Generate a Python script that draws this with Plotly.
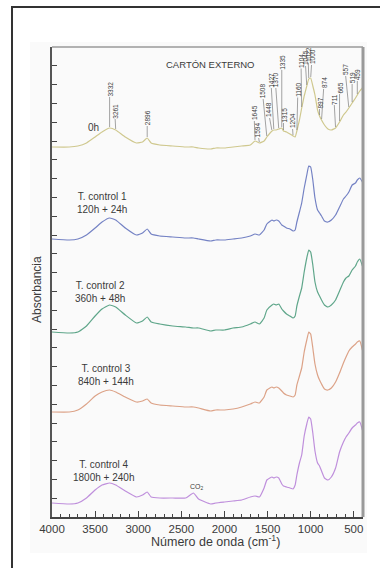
import numpy as np
import plotly.graph_objects as go

# Wavenumber grid (cm-1) shared by all spectra
wavenumber = [4000, 3800, 3700, 3600, 3500, 3420, 3332, 3261, 3150, 3020,
              2950, 2896, 2850, 2750, 2600, 2450, 2360, 2300, 2160, 2100,
              2000, 1900, 1800, 1700, 1645, 1594, 1540, 1508, 1448, 1427,
              1400, 1370, 1335, 1315, 1280, 1240, 1204, 1180, 1160, 1130,
              1104, 1075, 1045, 1022, 1000, 975, 950, 920, 897, 874,
              840, 800, 760, 711, 665, 620, 590, 557, 519, 480,
              459, 430, 400]

# Stacked absorbance spectra (arbitrary units, offset for clarity)
abs_0h = [3.70, 3.70, 3.71, 3.74, 3.80, 3.85, 3.89, 3.87, 3.80, 3.74,
          3.75, 3.79, 3.74, 3.72, 3.71, 3.70, 3.70, 3.69, 3.68, 3.69,
          3.69, 3.70, 3.71, 3.72, 3.76, 3.74, 3.76, 3.80, 3.86, 3.87,
          3.87, 3.88, 3.89, 3.86, 3.85, 3.83, 3.81, 3.80, 3.86, 3.97,
          4.09, 4.21, 4.31, 4.38, 4.39, 4.31, 4.22, 4.07, 4.01, 3.97,
          3.92, 3.88, 3.87, 3.89, 3.95, 4.02, 4.05, 4.09, 4.14, 4.19,
          4.22, 4.26, 4.29]
abs_ctrl1 = [2.78, 2.77, 2.78, 2.82, 2.89, 2.95, 2.99, 2.97, 2.89, 2.82,
             2.84, 2.88, 2.83, 2.81, 2.80, 2.79, 2.79, 2.78, 2.76, 2.77,
             2.77, 2.78, 2.79, 2.81, 2.83, 2.82, 2.87, 2.93, 2.97, 2.96,
             2.97, 2.96, 2.92, 2.91, 2.89, 2.88, 2.86, 2.87, 2.95, 3.05,
             3.14, 3.29, 3.42, 3.51, 3.50, 3.37, 3.19, 3.07, 3.04, 3.01,
             2.96, 2.95, 2.97, 3.02, 3.10, 3.18, 3.21, 3.25, 3.32, 3.34,
             3.37, 3.39, 3.35]
abs_ctrl2 = [1.85, 1.84, 1.85, 1.91, 2.01, 2.08, 2.12, 2.10, 2.02, 1.94,
             1.96, 2.00, 1.95, 1.93, 1.91, 1.90, 1.89, 1.89, 1.86, 1.87,
             1.87, 1.89, 1.90, 1.93, 1.95, 1.93, 1.99, 2.07, 2.12, 2.13,
             2.12, 2.13, 2.08, 2.06, 2.03, 2.01, 1.99, 2.01, 2.11, 2.21,
             2.29, 2.45, 2.59, 2.67, 2.65, 2.52, 2.35, 2.25, 2.21, 2.17,
             2.12, 2.10, 2.12, 2.17, 2.26, 2.35, 2.39, 2.41, 2.47, 2.51,
             2.55, 2.58, 2.51]
abs_ctrl3 = [1.05, 1.05, 1.07, 1.13, 1.21, 1.25, 1.27, 1.25, 1.20, 1.15,
             1.16, 1.18, 1.14, 1.12, 1.11, 1.10, 1.10, 1.09, 1.06, 1.07,
             1.07, 1.08, 1.10, 1.13, 1.15, 1.14, 1.20, 1.27, 1.30, 1.29,
             1.30, 1.29, 1.26, 1.24, 1.22, 1.21, 1.20, 1.22, 1.32, 1.41,
             1.49, 1.65, 1.77, 1.85, 1.83, 1.69, 1.53, 1.42, 1.37, 1.33,
             1.28, 1.27, 1.29, 1.35, 1.44, 1.54, 1.60, 1.66, 1.70, 1.73,
             1.75, 1.76, 1.67]
abs_ctrl4 = [0.14, 0.13, 0.14, 0.19, 0.27, 0.32, 0.34, 0.32, 0.26, 0.20,
             0.22, 0.25, 0.20, 0.19, 0.19, 0.19, 0.24, 0.18, 0.13, 0.14,
             0.15, 0.16, 0.17, 0.20, 0.21, 0.20, 0.29, 0.37, 0.40, 0.39,
             0.40, 0.39, 0.33, 0.31, 0.30, 0.29, 0.28, 0.32, 0.42, 0.54,
             0.62, 0.81, 0.93, 1.00, 0.98, 0.84, 0.66, 0.54, 0.51, 0.46,
             0.39, 0.37, 0.40, 0.49, 0.65, 0.75, 0.80, 0.84, 0.89, 0.92,
             0.94, 0.95, 0.87]

series_names = ["0h", "T. control 1<br>120h + 24h", "T. control 2<br>360h + 48h",
                "T. control 3<br>840h + 144h", "T. control 4<br>1800h + 240h"]
series_values = [abs_0h, abs_ctrl1, abs_ctrl2, abs_ctrl3, abs_ctrl4]
series_colors = ["#cfc88e", "#7482c4", "#5fa68a", "#dca287", "#bf8fdc"]
# label anchor (wavenumber, absorbance) for each spectrum name
label_wn = [3524, 3420, 3443, 3374, 3408]
label_y = [3.90, 3.14, 2.25, 1.42, 0.46]

# Band assignments marked on the 0h spectrum
peak_wn = [3332, 3261, 2896, 1645, 1594, 1508, 1448, 1427, 1370, 1335, 1315,
           1204, 1160, 1104, 1045, 1022, 1000, 897, 874, 711, 665, 557, 519, 459]
# label placement relative to the band (pixels)
peak_dx = [0, -1, 0, -1, -2, -4.5, -4, -3, -3.5, 0, 0,
           -1, 1, -0.7, -1.7, -0.7, 1.4, 0, 2.5, -1.6, 0, -3.8, 0, 0]
peak_dy = [-39, -19, -20, -28, -13, -46, -21, -50, -49, -66, -16,
           -15, -41, -47, -28, -24, -21, -13, -37, -29, -34, -38, -25, -20]

FONT = "Liberation Sans, Arial, sans-serif"
TXT = "#3a3a3a"

fig = go.Figure()
for vals, col in zip(series_values, series_colors):
    fig.add_trace(go.Scatter(x=wavenumber, y=vals, mode="lines",
                             line=dict(color=col, width=1.2, shape="spline", smoothing=0.4),
                             hoverinfo="skip", showlegend=False))

annotations = []
for name, wx, wy in zip(series_names, label_wn, label_y):
    annotations.append(dict(x=wx, y=wy, xref="x", yref="y", text=name, showarrow=False,
                            font=dict(family=FONT, size=10, color=TXT), align="center"))

wn_rev = np.array(wavenumber[::-1], dtype=float)
a0_rev = np.array(abs_0h[::-1], dtype=float)
for w, dx, dy in zip(peak_wn, peak_dx, peak_dy):
    yv = float(np.interp(w, wn_rev, a0_rev))
    annotations.append(dict(x=w, y=yv, xref="x", yref="y", text=str(w), textangle=-90,
                            showarrow=True, arrowhead=0, arrowwidth=0.6, arrowcolor="#666",
                            ax=dx, ay=dy, standoff=1, borderpad=0,
                            font=dict(family=FONT, size=6.5, color=TXT)))

annotations += [
    dict(x=2167, y=4.53, xref="x", yref="y", text="CARTÓN EXTERNO", showarrow=False,
         font=dict(family=FONT, size=9.5, color=TXT)),
    dict(x=2318, y=0.30, xref="x", yref="y", text="CO<sub>2</sub>", showarrow=False,
         font=dict(family=FONT, size=7, color=TXT)),
    dict(x=(37 - 52) / 311, y=(517 - 290) / 470, xref="paper", yref="paper",
         xanchor="center", yanchor="middle",
         text="Absorbancia", textangle=-90, showarrow=False,
         font=dict(family=FONT, size=12, color=TXT)),
    dict(x=(215 - 52) / 311, y=(517 - 541) / 470, xref="paper", yref="paper",
         xanchor="center", yanchor="middle",
         text="Número de onda (cm<sup>-1</sup>)", showarrow=False,
         font=dict(family=FONT, size=12.5, color=TXT)),
]

shapes = [
    # faint panel tint
    dict(type="rect", xref="paper", yref="paper", x0=-0.0707, x1=1.0129, y0=-0.0766, y1=1.0106,
         fillcolor="#fafafa", line=dict(width=0), layer="below"),
    # outer frame
    dict(type="rect", xref="paper", yref="paper", x0=-0.1286, x1=1.3, y0=-0.3, y1=1.0851,
         line=dict(color="#333333", width=2), fillcolor="rgba(0,0,0,0)"),
    # top and right borders of the plot box
    dict(type="line", xref="paper", yref="paper", x0=0, x1=1, y0=1, y1=1,
         line=dict(color="#9a9a9a", width=1.5)),
    dict(type="line", xref="paper", yref="paper", x0=1, x1=1, y0=0, y1=1,
         line=dict(color="#9a9a9a", width=3)),
]

fig.update_layout(
    width=380, height=568,
    margin=dict(l=52, r=17, t=47, b=51),
    paper_bgcolor="white", plot_bgcolor="rgba(0,0,0,0)",
    font=dict(family=FONT, color=TXT),
    annotations=annotations, shapes=shapes,
    showlegend=False,
)
fig.update_xaxes(range=[4000, 393], tick0=0, dtick=500, ticks="inside", ticklen=6,
                 tickcolor="#444", tickwidth=1, showgrid=False, zeroline=False,
                 showline=True, linecolor="#444", linewidth=1.5,
                 tickfont=dict(family=FONT, size=11.5, color=TXT),
                 minor=dict(dtick=100, tick0=0, ticks="inside", ticklen=3,
                            tickcolor="#444", tickwidth=1, showgrid=False))
fig.update_yaxes(range=[0, 4.70], tick0=0, dtick=0.188, ticks="inside", ticklen=5,
                 tickcolor="#444", showticklabels=False, showgrid=False, zeroline=False,
                 showline=True, linecolor="#555", linewidth=1.5)

fig.write_html("out.html")
